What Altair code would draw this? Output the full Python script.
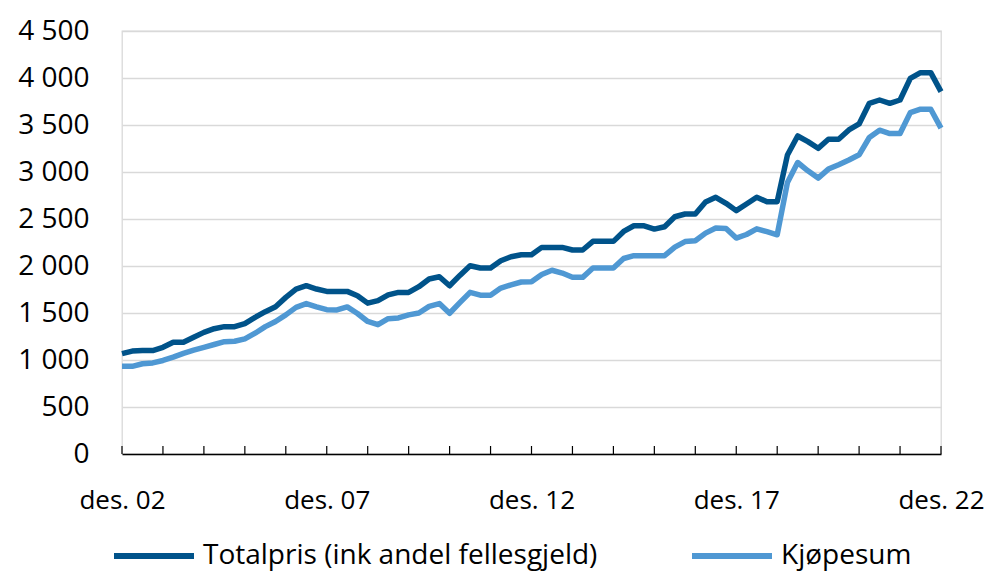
import altair as alt
import pandas as pd

# Quarterly values, des. 02 .. des. 22
totalpris = [1068, 1095, 1100, 1100, 1135, 1188, 1188, 1241, 1294, 1333,
             1355, 1355, 1387, 1454, 1514, 1567, 1666, 1755, 1790, 1755,
             1730, 1730, 1730, 1684, 1605, 1631, 1692, 1719, 1719, 1780,
             1862, 1886, 1790, 1900, 2003, 1979, 1979, 2056, 2099, 2120,
             2120, 2198, 2198, 2198, 2170, 2170, 2262, 2262, 2262, 2368,
             2428, 2428, 2393, 2418, 2524, 2553, 2553, 2680, 2731, 2667,
             2589, 2660, 2731, 2684, 2684, 3181, 3383, 3323, 3252, 3348,
             3348, 3447, 3511, 3731, 3766, 3731, 3766, 3996, 4057, 4057,
             3855]
kjopesum = [933, 933, 960, 969, 995, 1030, 1070, 1105, 1135, 1165,
            1195, 1199, 1225, 1285, 1355, 1410, 1480, 1560, 1600, 1565,
            1535, 1532, 1565, 1495, 1410, 1376, 1440, 1447, 1480, 1500,
            1570, 1600, 1497, 1610, 1720, 1690, 1690, 1765, 1800, 1830,
            1833, 1910, 1955, 1925, 1880, 1879, 1979, 1979, 1979, 2080,
            2110, 2110, 2110, 2110, 2200, 2260, 2269, 2350, 2404, 2400,
            2297, 2335, 2395, 2365, 2332, 2888, 3101, 3013, 2935, 3031,
            3077, 3127, 3183, 3367, 3445, 3409, 3409, 3632, 3668, 3668,
            3467]
series_names = ["Totalpris (ink andel fellesgjeld)", "Kjøpesum"]
series_colors = ["#00538A", "#4F98D3"]
tick_labels = ["des. 02", "des. 07", "des. 12", "des. 17", "des. 22"]
y_ticks = [0, 500, 1000, 1500, 2000, 2500, 3000, 3500, 4000, 4500]

n = len(totalpris)
idx = list(range(n))
df = pd.DataFrame({
    "q": idx + idx,
    "value": totalpris + kjopesum,
    "serie": [series_names[0]] * n + [series_names[1]] * n,
})
year_ticks = pd.DataFrame({"q": list(range(0, n, 4))})

FONT = "Open Sans"
W, H = 819, 423

label_list = "[" + ",".join("'" + t + "'" for t in tick_labels) + "]"

x_scale = alt.Scale(domain=[0, n - 1], nice=False, zero=False)

lines = alt.Chart(df).mark_line(strokeWidth=5.5, strokeJoin="round").encode(
    x=alt.X("q:Q", scale=x_scale,
            axis=alt.Axis(values=[0, 20, 40, 60, 80], title=None,
                          labelExpr=label_list + "[round(datum.value/20)]",
                          ticks=False, grid=False, domainColor="#000000",
                          domainWidth=1.5, labelPadding=33,
                          labelFontSize=26, labelFont=FONT,
                          labelColor="#000000", labelFlush=False)),
    y=alt.Y("value:Q", scale=alt.Scale(domain=[0, 4500], nice=False),
            axis=alt.Axis(values=y_ticks, title=None, domain=False,
                          ticks=False, gridColor="#D9D9D9", gridWidth=1.3,
                          labelPadding=33, labelFontSize=28, labelFont=FONT,
                          labelColor="#000000",
                          labelExpr="datum.value >= 1000 ? floor(datum.value/1000) + ' ' + format(datum.value % 1000, '03d') : datum.value + ''")),
    color=alt.Color("serie:N",
                    scale=alt.Scale(domain=series_names, range=series_colors),
                    sort=series_names,
                    legend=alt.Legend(title=None, orient="none",
                                      direction="horizontal", columns=2,
                                      legendX=-11, legendY=482,
                                      symbolType="stroke", symbolSize=6400,
                                      symbolStrokeWidth=6,
                                      labelFontSize=28, labelFont=FONT,
                                      labelColor="#000000", labelOffset=6,
                                      columnPadding=82, padding=0,
                                      labelLimit=600)),
)

ticks = alt.Chart(year_ticks).mark_rule(color="#000000", strokeWidth=1.2).encode(
    x=alt.X("q:Q", scale=x_scale),
    y=alt.value(H),
    y2=alt.value(H - 8),
)

chart = alt.layer(lines, ticks).properties(
    width=W, height=H,
    autosize=alt.AutoSizeParams(type="none"),
    padding={"left": 114, "top": 23, "right": 43, "bottom": 118},
).configure_view(stroke="#D9D9D9", strokeWidth=1.3)

chart.save("out.html", embed_options={"renderer": "svg", "actions": False})
